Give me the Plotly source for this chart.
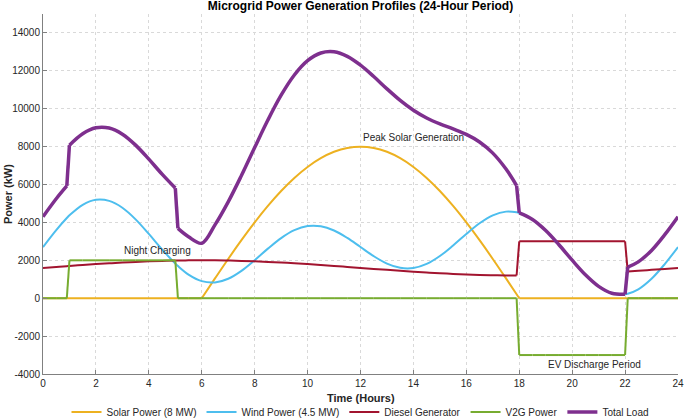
import plotly.graph_objects as go

# Time axis (hours)
hours = [0, 0.5, 0.9, 1, 1.5, 2, 2.5, 3, 3.5, 4, 4.5, 5, 5.1, 5.5,
         6, 6.5, 7, 7.5, 8, 8.5, 9, 9.5, 10, 10.5, 11, 11.5, 12,
         12.5, 13, 13.5, 14, 14.5, 15, 15.5, 16, 16.5, 17, 17.5, 17.9, 18,
         18.5, 19, 19.5, 20, 20.5, 21, 21.5, 22, 22.1, 22.5, 23, 23.5, 24]

solar = [0, 0, 0, 0, 0, 0, 0, 0, 0, 0, 0, 0, 0, 0,
         0, 1044, 2071, 3061, 4000, 4870, 5657, 6347, 6928, 7391, 7727, 7932, 8000,
         7932, 7727, 7391, 6928, 6347, 5657, 4870, 4000, 3061, 2071, 1044, 209, 0,
         0, 0, 0, 0, 0, 0, 0, 0, 0, 0, 0, 0, 0]

wind = [2700, 3596, 4232, 4373, 4929, 5193, 5136, 4773, 4162, 3393, 2577, 1827, 1694, 1244,
        900, 830, 1027, 1445, 2007, 2616, 3173, 3590, 3807, 3797, 3573, 3182, 2700,
        2218, 1827, 1603, 1593, 1810, 2227, 2784, 3393, 3955, 4373, 4570, 4536, 4500,
        4156, 3573, 2823, 2007, 1238, 627, 264, 207, 235, 471, 1027, 1804, 2700]

diesel = [1600, 1652, 1693, 1704, 1753, 1800, 1843, 1883, 1917, 1946, 1970, 1986, 1989, 1997,
          2000, 1997, 1986, 1970, 1946, 1917, 1883, 1843, 1800, 1753, 1704, 1652, 1600,
          1548, 1496, 1447, 1400, 1357, 1317, 1283, 1254, 1230, 1214, 1203, 1200, 3000,
          3000, 3000, 3000, 3000, 3000, 3000, 3000, 3000, 1409, 1447, 1496, 1548, 1600]

v2g = [0, 0, 0, 2000, 2000, 2000, 2000, 2000, 2000, 2000, 2000, 2000, 0, 0,
       0, 0, 0, 0, 0, 0, 0, 0, 0, 0, 0, 0, 0,
       0, 0, 0, 0, 0, 0, 0, 0, 0, 0, 0, 0, -3000,
       -3000, -3000, -3000, -3000, -3000, -3000, -3000, -3000, 0, 0, 0, 0, 0]

total_load = [4300, 5248, 5925, 8077, 8682, 8993, 8979, 8656, 8079, 7339, 6547, 5813, 3683, 3241,
              2900, 3871, 5084, 6476, 7953, 9403, 10713, 11780, 12535, 12941, 13004, 12766, 12300,
              11698, 11050, 10441, 9921, 9514, 9201, 8937, 8647, 8246, 7658, 6817, 5945, 4500,
              4156, 3573, 2823, 2007, 1238, 627, 264, 207, 1644, 1918, 2523, 3352, 4300]

series_names = ["Solar Power (8 MW)", "Wind Power (4.5 MW)", "Diesel Generator",
                "V2G Power", "Total Load"]
# hours where each profile switches regime (the curve is smooth between them)
solar_breaks = [6, 18]
wind_breaks = []
diesel_breaks = [17.9, 18, 22, 22.1]
v2g_breaks = list(hours)
total_breaks = [0.9, 1, 5, 5.1, 17.9, 18, 22, 22.1]

x_ticks = list(range(0, 25, 2))
y_ticks = list(range(-4000, 14001, 2000))
y_tick_labels = [str(v) for v in y_ticks]

annotations_text = ["Night Charging", "Peak Solar Generation", "EV Discharge Period"]
annotations_x = [3, 12, 19]
annotations_y = [2500, 8500, -3500]

colors = ["#EDB120", "#4DBEEE", "#A2142F", "#77AC30", "#7E2F8E"]
widths = [2, 2, 2, 2, 3.5]
FONT = "Liberation Sans, Arial, Helvetica, sans-serif"


def segments(xs, ys, breaks):
    cuts = [0] + [xs.index(b) for b in breaks] + [len(xs) - 1]
    cuts = sorted(set(cuts))
    return [(xs[a:b + 1], ys[a:b + 1]) for a, b in zip(cuts[:-1], cuts[1:])]


fig = go.Figure()
all_series = [solar, wind, diesel, v2g, total_load]
all_breaks = [solar_breaks, wind_breaks, diesel_breaks, v2g_breaks, total_breaks]
for i, (name, ys, brk, c, w) in enumerate(zip(series_names, all_series, all_breaks, colors, widths)):
    for j, (sx, sy) in enumerate(segments(hours, ys, brk)):
        fig.add_trace(go.Scatter(
            x=sx, y=sy, mode="lines", name=name, legendgroup=name,
            showlegend=(j == 0), legendrank=i + 1,
            line=dict(color=c, width=w, shape="spline" if len(sx) > 2 else "linear",
                      smoothing=1.0)))

for t, ax, ay in zip(annotations_text, annotations_x, annotations_y):
    fig.add_annotation(x=ax, y=ay, text=t, showarrow=False, xanchor="left",
                       yanchor="middle", font=dict(family=FONT, size=10, color="#262626"))

# axis titles as annotations
fig.add_annotation(xref="paper", yref="paper", x=-0.055, y=0.5, text="<b>Power (kW)</b>",
                   showarrow=False, textangle=-90, xanchor="center", yanchor="middle",
                   font=dict(family=FONT, size=11, color="#262626"))
fig.add_annotation(xref="paper", yref="paper", x=0.5, y=-0.067, text="<b>Time (Hours)</b>",
                   showarrow=False, xanchor="center", yanchor="middle",
                   font=dict(family=FONT, size=11, color="#262626"))

fig.update_layout(
    width=685, height=419,
    margin=dict(l=43, r=7, t=14, b=45),
    paper_bgcolor="white", plot_bgcolor="white",
    font=dict(family=FONT, size=10, color="#262626"),
    title=dict(text="<b>Microgrid Power Generation Profiles (24-Hour Period)</b>",
               x=0.5, xref="paper", xanchor="center", y=0.987, yanchor="middle",
               yref="container",
               font=dict(family=FONT, size=12, color="#000000")),
    showlegend=True,
    legend=dict(orientation="h", x=0.5, xanchor="center", xref="paper",
                y=0.017, yanchor="middle", yref="container",
                font=dict(family=FONT, size=10, color="#262626"),
                bgcolor="rgba(0,0,0,0)", itemwidth=30, tracegroupgap=0,
                traceorder="normal"),
)
fig.update_xaxes(range=[0, 24], tickvals=x_ticks, showgrid=True, gridcolor="#d9d9d9",
                 griddash="dot", gridwidth=1, zeroline=False, showline=True,
                 linecolor="#808080", linewidth=1, ticks="inside", ticklen=4,
                 tickcolor="#808080", tickfont=dict(size=10, color="#262626"),
                 automargin=False, ticklabeloverflow="allow")
fig.update_yaxes(range=[-4000, 15000], tickvals=y_ticks, ticktext=y_tick_labels,
                 showgrid=True, gridcolor="#d9d9d9",
                 griddash="dot", gridwidth=1, zeroline=False, showline=True,
                 linecolor="#808080", linewidth=1, ticks="inside", ticklen=4,
                 tickcolor="#808080", tickfont=dict(size=10, color="#262626"),
                 automargin=False, ticklabeloverflow="allow")

fig.write_html(
    "out.html",
    config={"displayModeBar": False},
    post_script="document.body.style.margin='0';document.body.style.padding='0';"
                "document.body.style.overflow='hidden';",
)
